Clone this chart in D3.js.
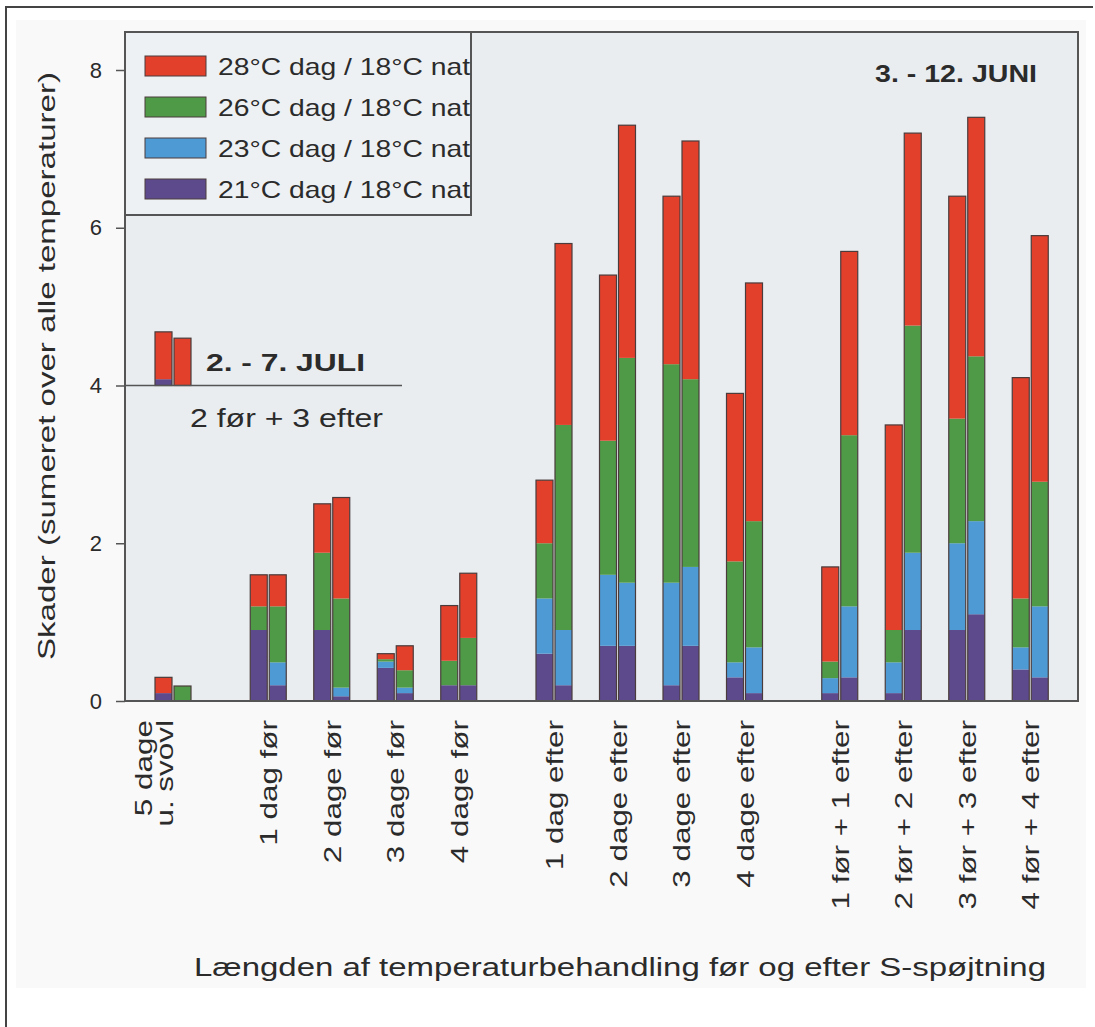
<!DOCTYPE html>
<html>
  <head>
    <meta charset="UTF-8" />
    <title>Skader efter temperaturbehandling</title>
    <style>
      body { margin: 0; background: #fff; }
      text { font-family: "Liberation Sans", Arial, sans-serif; fill: #2b2b2b; }
    </style>
  </head>
  <body>
    <svg width="1095" height="1027"></svg>
    <script src="https://d3js.org/d3.v7.min.js"></script>
    <script>
      // categories (x axis), with the group each belongs to
      var categories = ["5 dage|u. svovl", "1 dag før", "2 dage før", "3 dage før", "4 dage før",
        "1 dag efter", "2 dage efter", "3 dage efter", "4 dage efter",
        "1 før + 1 efter", "2 før + 2 efter", "3 før + 3 efter", "4 før + 4 efter"];
      var groups = [0, 1, 1, 1, 1, 2, 2, 2, 2, 3, 3, 3, 3];

      var series = ["21°C dag / 18°C nat", "23°C dag / 18°C nat", "26°C dag / 18°C nat", "28°C dag / 18°C nat"];
      var colours = ["#5d4a8c", "#4e9ad4", "#4f9a46", "#e2402b"];

      // left bar of each pair, one array per temperature
      var leftT21 = [0.1, 0.9, 0.9, 0.42, 0.2, 0.6, 0.7, 0.2, 0.3, 0.1, 0.1, 0.9, 0.4];
      var leftT23 = [0, 0, 0, 0.08, 0, 0.7, 0.9, 1.3, 0.19, 0.19, 0.39, 1.1, 0.28];
      var leftT26 = [0, 0.3, 0.98, 0.03, 0.31, 0.7, 1.7, 2.77, 1.28, 0.21, 0.41, 1.58, 0.62];
      var leftT28 = [0.2, 0.4, 0.62, 0.07, 0.7, 0.8, 2.1, 2.13, 2.13, 1.2, 2.6, 2.82, 2.8];
      // right bar of each pair
      var rightT21 = [0, 0.2, 0.06, 0.1, 0.2, 0.2, 0.7, 0.7, 0.1, 0.3, 0.9, 1.1, 0.3];
      var rightT23 = [0, 0.29, 0.11, 0.07, 0, 0.7, 0.8, 1.0, 0.58, 0.9, 0.98, 1.18, 0.9];
      var rightT26 = [0.19, 0.71, 1.13, 0.22, 0.6, 2.6, 2.85, 2.38, 1.6, 2.17, 2.88, 2.09, 1.58];
      var rightT28 = [0, 0.4, 1.28, 0.31, 0.82, 2.3, 2.95, 3.02, 3.02, 2.33, 2.44, 3.03, 3.12];

      // 2. - 7. juli, "2 før + 3 efter", drawn on the line at 4
      var juliBase = 4;
      var juliLeft = [0.08, 0, 0, 0.6];
      var juliRight = [0, 0, 0, 0.6];

      var yTicks = [0, 2, 4, 6, 8];

      var svg = d3.select("svg");
      var plot = { left: 125, right: 1078, top: 32, bottom: 701 };

      // page frame (top and left edges only)
      svg.append("path").attr("d", "M6,1027V7H1093").attr("fill", "none")
        .attr("stroke", "#444").attr("stroke-width", 2);
      svg.append("rect").attr("x", 16).attr("y", 20).attr("width", 1070).attr("height", 968)
        .attr("fill", "#f9f9f9");

      svg.append("rect")
        .attr("x", plot.left).attr("y", plot.top)
        .attr("width", plot.right - plot.left).attr("height", plot.bottom - plot.top)
        .attr("fill", "#e9edf0");

      var y = d3.scaleLinear().domain([0, 8]).range([plot.bottom, 70]);

      // slot position: one step per bar pair, 1.5 steps between groups
      var slots = categories.map(function (c, i) { return i + groups[i] * 0.5; });
      var x = d3.scaleLinear().domain([0, 1]).range([173, 236.5]);
      var barW = 17;

      function rowsFrom(a, b, c, d) {
        return categories.map(function (cat, i) {
          return { cat: cat, i: i, t21: a[i], t23: b[i], t26: c[i], t28: d[i] };
        });
      }
      var keys = ["t21", "t23", "t26", "t28"];
      var stack = d3.stack().keys(keys);
      var bars = [
        { offset: -18, layers: stack(rowsFrom(leftT21, leftT23, leftT26, leftT28)) },
        { offset: 1, layers: stack(rowsFrom(rightT21, rightT23, rightT26, rightT28)) }
      ];

      bars.forEach(function (b) {
        svg.append("g").selectAll("g").data(b.layers).join("g")
          .attr("fill", function (d, k) { return colours[k]; })
          .selectAll("rect").data(function (d) { return d; }).join("rect")
          .attr("x", function (d) { return x(slots[d.data.i]) + b.offset; })
          .attr("y", function (d) { return y(d[1]); })
          .attr("width", barW)
          .attr("height", function (d) { return y(d[0]) - y(d[1]); });
        // outline of the whole bar
        var top = b.layers[b.layers.length - 1];
        svg.append("g").selectAll("rect").data(top).join("rect")
          .attr("x", function (d) { return x(slots[d.data.i]) + b.offset; })
          .attr("y", function (d) { return y(d[1]); })
          .attr("width", barW)
          .attr("height", function (d) { return y(0) - y(d[1]); })
          .attr("fill", "none").attr("stroke", "#4a3c3c").attr("stroke-width", 1.2);
      });

      // juli bars on the baseline at 4
      var juliRows = [juliLeft, juliRight].map(function (v, j) {
        return { j: j, t21: v[0], t23: v[1], t26: v[2], t28: v[3] };
      });
      var juliStack = d3.stack().keys(keys).offset(function (s) {
        s.forEach(function (layer, k) {
          layer.forEach(function (p) {
            if (k === 0) { p[1] = p[1] - p[0] + juliBase; p[0] = juliBase; }
            else { var h = p[1] - p[0]; p[0] = s[k - 1][p.data.j][1]; p[1] = p[0] + h; }
          });
        });
      })(juliRows);
      var juliX = [x(slots[0]) - 18, x(slots[0]) + 1];
      svg.append("g").selectAll("g").data(juliStack).join("g")
        .attr("fill", function (d, k) { return colours[k]; })
        .selectAll("rect").data(function (d) { return d; }).join("rect")
        .attr("x", function (d) { return juliX[d.data.j]; })
        .attr("y", function (d) { return y(d[1]); })
        .attr("width", barW)
        .attr("height", function (d) { return y(d[0]) - y(d[1]); });
      svg.append("g").selectAll("rect").data(juliStack[3]).join("rect")
        .attr("x", function (d) { return juliX[d.data.j]; })
        .attr("y", function (d) { return y(d[1]); })
        .attr("width", barW)
        .attr("height", function (d) { return y(juliBase) - y(d[1]); })
        .attr("fill", "none").attr("stroke", "#4a3c3c").attr("stroke-width", 1.2);

      svg.append("line")
        .attr("x1", plot.left).attr("x2", 402)
        .attr("y1", y(juliBase)).attr("y2", y(juliBase))
        .attr("stroke", "#555").attr("stroke-width", 1.5);
      svg.append("text").attr("x", 206).attr("y", 371)
        .attr("font-size", 24).attr("font-weight", "bold")
        .attr("textLength", 159).attr("lengthAdjust", "spacingAndGlyphs").text("2. - 7. JULI");
      svg.append("text").attr("x", 190).attr("y", 427)
        .attr("font-size", 26).attr("textLength", 193).attr("lengthAdjust", "spacingAndGlyphs")
        .text("2 før + 3 efter");
      svg.append("text").attr("x", 875).attr("y", 82)
        .attr("font-size", 24).attr("font-weight", "bold")
        .attr("textLength", 162).attr("lengthAdjust", "spacingAndGlyphs").text("3. - 12. JUNI");

      // plot frame
      svg.append("rect")
        .attr("x", plot.left).attr("y", plot.top)
        .attr("width", plot.right - plot.left).attr("height", plot.bottom - plot.top)
        .attr("fill", "none").attr("stroke", "#555").attr("stroke-width", 2);

      // y axis
      var yAxis = svg.append("g").attr("transform", "translate(" + plot.left + ",0)")
        .call(d3.axisLeft(y).tickValues(yTicks).tickSize(9).tickPadding(14));
      yAxis.select(".domain").remove();
      yAxis.selectAll("line").attr("stroke", "#555").attr("stroke-width", 1.5);
      yAxis.selectAll("text").attr("font-size", 22).attr("fill", "#333")
        .attr("font-family", "'Liberation Sans', Arial, sans-serif");

      svg.append("text")
        .attr("transform", "translate(55,366) rotate(-90)")
        .attr("text-anchor", "middle").attr("font-size", 24)
        .attr("textLength", 588).attr("lengthAdjust", "spacingAndGlyphs")
        .text("Skader (sumeret over alle temperaturer)");

      // x labels, rotated, stretched along their length like the original
      categories.forEach(function (c, i) {
        var lines = c.split("|");
        lines.forEach(function (ln, k) {
          var cx = x(slots[i]) + (k - (lines.length - 1) / 2) * 21 - (lines.length > 1 ? 20 : 0);
          var t = svg.append("text")
            .attr("transform", "translate(" + (cx + 9) + ",720) rotate(-90)")
            .attr("text-anchor", "end").attr("font-size", 24)
            .text(ln);
          var len = t.node().getComputedTextLength();
          t.attr("textLength", len * 1.31).attr("lengthAdjust", "spacingAndGlyphs");
        });
      });

      svg.append("text").attr("x", 620).attr("y", 976).attr("text-anchor", "middle")
        .attr("font-size", 25).attr("textLength", 852).attr("lengthAdjust", "spacingAndGlyphs")
        .text("Længden af temperaturbehandling før og efter S-spøjtning");

      // legend
      var lg = svg.append("g");
      lg.append("rect").attr("x", plot.left).attr("y", plot.top)
        .attr("width", 346).attr("height", 183)
        .attr("fill", "#eef1f4").attr("stroke", "#555").attr("stroke-width", 2);
      var legendOrder = [3, 2, 1, 0];
      legendOrder.forEach(function (k, r) {
        var ly = 66 + r * 41;
        lg.append("rect").attr("x", 145).attr("y", ly - 10).attr("width", 61).attr("height", 20)
          .attr("fill", colours[k]).attr("stroke", "#4a3c3c").attr("stroke-width", 1);
        lg.append("text").attr("x", 218).attr("y", ly + 9).attr("font-size", 24)
          .attr("textLength", 252).attr("lengthAdjust", "spacingAndGlyphs")
          .text(series[k]);
      });
    </script>
  </body>
</html>
